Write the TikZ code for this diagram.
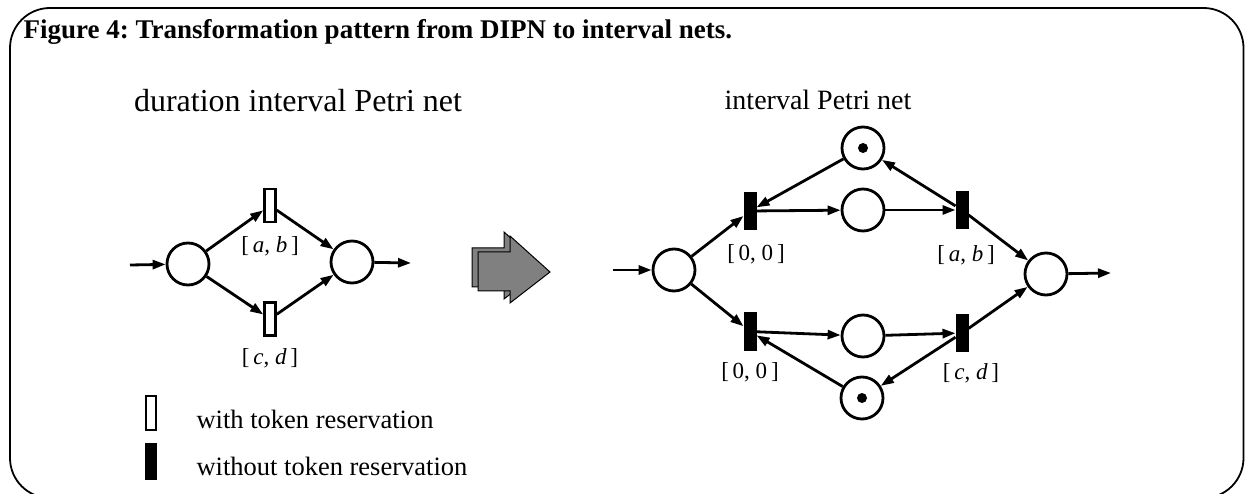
\documentclass[tikz,border=0pt]{standalone}
\usepackage{fontspec}
\setmainfont{Liberation Serif}
\usetikzlibrary{arrows.meta}
\frenchspacing
\begin{document}
\begin{tikzpicture}[x=1pt,y=-1pt,
  place/.style={circle,draw,line width=2.8pt,minimum size=42pt,inner sep=0pt},
  tok/.style={circle,fill=black,minimum size=10pt,inner sep=0pt},
  otrans/.style={rectangle,draw,line width=2.5pt,minimum width=11pt,minimum height=33pt,inner sep=0pt},
  ftrans/.style={rectangle,draw,fill=black,line width=1pt,minimum width=12pt,minimum height=37pt,inner sep=0pt},
  arc/.style={line width=2.8pt,-{Triangle[length=13pt,width=9pt]}},
  lab/.style={font=\fontsize{23}{26}\selectfont},
  sub/.style={font=\fontsize{28}{32}\selectfont,anchor=base},
  leg/.style={font=\fontsize{26.5}{30}\selectfont,anchor=base west},
  bigarrow/.style={fill=gray,draw=black,line width=1pt}
]
\useasboundingbox (0,0) rectangle (1245,494);
% frame
\draw[line width=1.8pt,rounded corners=40pt] (10,8) rectangle (1243.5,498);
\node[anchor=base west,font=\fontsize{27}{30}\selectfont\bfseries] (title) at (20,39) {Figure 4: Transformation pattern from DIPN to interval nets.};
\node[sub,font=\fontsize{32}{36}\selectfont] (subl) at (298,112) {duration interval Petri net};
\node[sub] (subr) at (818,110) {interval Petri net};

% left net
\coordinate (lin) at (130,265);
\coordinate (lout) at (411,263);
\node[place] (p1) at (188,264) {};
\node[place] (p2) at (352,262) {};
\node[otrans] (t1) at (270,205.5) {};
\node[otrans] (t2) at (270,319) {};
\node[lab] (l1) at (270,246) {[\,\textit{a}, \textit{b}\,]};
\node[lab] (l2) at (270,358) {[\,\textit{c}, \textit{d}\,]};
\draw[arc] (lin) -- (p1);
\draw[arc] (p1) -- (t1);
\draw[arc] (p1) -- (t2);
\draw[arc] (t1) -- (p2);
\draw[arc] (t2) -- (p2);
\draw[arc] (p2) -- (lout);

% legend
\node[otrans,minimum width=10pt,minimum height=34pt] (lg1) at (151,413) {};
\node[ftrans,minimum width=11pt,minimum height=36pt] (lg2) at (151,461) {};
\node[leg] (lt1) at (193,428) {with token reservation};
\node[leg] (lt2) at (193,475) {without token reservation};

% big arrow
\draw[bigarrow,shift={(-6,-4)}] (478,252) -- (510,252) -- (510,236) -- (550,272) -- (510,303) -- (510,291) -- (478,291) -- cycle;
\draw[bigarrow] (478,252) -- (510,252) -- (510,236) -- (550,272) -- (510,303) -- (510,291) -- (478,291) -- cycle;

% right net
\coordinate (rin) at (613,270);
\coordinate (rout) at (1111,273);
\node[place] (pin) at (674,270) {};
\node[place] (pout) at (1046,274) {};
\node[ftrans] (ta) at (750,211) {};
\node[ftrans] (tb) at (962,210) {};
\node[ftrans] (tc) at (750,331.5) {};
\node[ftrans] (td) at (962,333) {};
\node[place] (pm1) at (863,210) {};
\node[place] (pm2) at (863,336) {};
\node[place] (pk1) at (863,148) {};
\node[tok] (k1) at (pk1) {};
\node[place] (pk2) at (862,398) {};
\node[tok] (k2) at (pk2) {};
\node[lab] (la) at (756,254) {[\,0, 0\,]};
\node[lab] (lb) at (966,255) {[\,\textit{a}, \textit{b}\,]};
\node[lab] (lc) at (750,372) {[\,0, 0\,]};
\node[lab] (ld) at (971,373) {[\,\textit{c}, \textit{d}\,]};
\draw[arc] (rin) -- (pin);
\draw[arc] (pin) -- (ta);
\draw[arc] (pin) -- (tc);
\draw[arc] (ta) -- (pm1);
\draw[arc] (pm1) -- (tb);
\draw[arc] (tb) -- (pk1);
\draw[arc] (pk1) -- (ta);
\draw[arc] (tb) -- (pout);
\draw[arc] (tc) -- (pm2);
\draw[arc] (pm2) -- (td);
\draw[arc] (td) -- (pk2);
\draw[arc] (pk2) -- (tc);
\draw[arc] (td) -- (pout);
\draw[arc] (pout) -- (rout);
\end{tikzpicture}
\end{document}
